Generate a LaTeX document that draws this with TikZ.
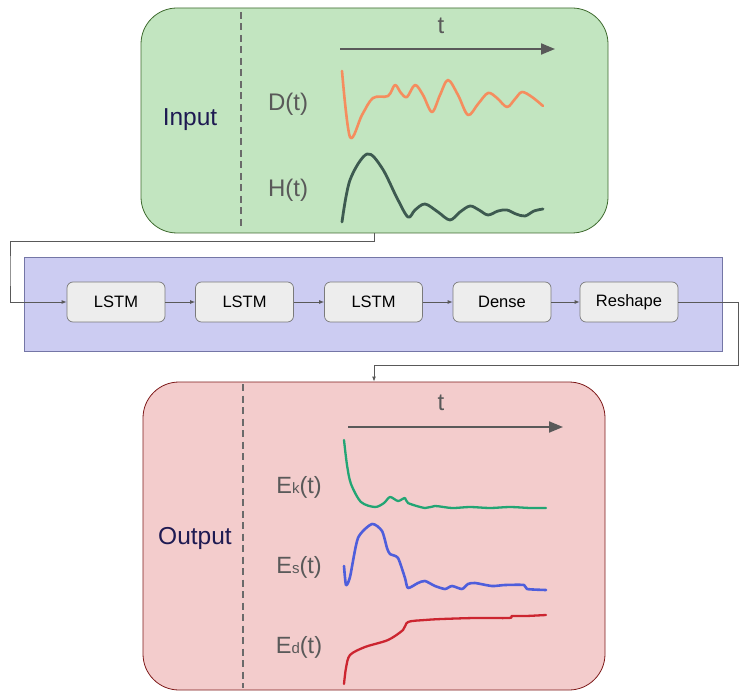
\documentclass[tikz,border=0pt]{standalone}
\usepackage{fontspec}
\setmainfont{Liberation Sans}
\usetikzlibrary{arrows.meta}
\definecolor{gfill}{HTML}{C2E5C0}
\definecolor{gdraw}{HTML}{3E6A2E}
\definecolor{bfill}{HTML}{CCCCF2}
\definecolor{bdraw}{HTML}{7476A6}
\definecolor{rfill}{HTML}{F3CCCC}
\definecolor{rdraw}{HTML}{7E1A1A}
\definecolor{lbl}{HTML}{595959}
\definecolor{navy}{HTML}{1E1A52}
\definecolor{dcol}{HTML}{F58D5E}
\definecolor{hcol}{HTML}{3D5A50}
\definecolor{kcol}{HTML}{22A574}
\definecolor{scol}{HTML}{4E5EDC}
\definecolor{ecol}{HTML}{CC2530}
\tikzset{
  panel/.style={rounded corners=36pt, line width=0.8pt},
  layer/.style={draw=lbl!80, fill=black!7, rounded corners=6pt, minimum width=98pt, minimum height=40pt, font=\fontsize{16.5}{18}\selectfont, line width=0.7pt},
  conn/.style={draw=lbl, line width=0.9pt, -{Latex[length=5pt,width=4pt]}},
  axis/.style={draw=lbl, line width=2pt, -{Triangle[length=14pt,width=11pt]}},
  sep/.style={draw=lbl!90, line width=1.6pt, dash pattern=on 7pt off 4.5pt},
  big/.style={font=\fontsize{24.5}{28}\selectfont},
  sig/.style={font=\fontsize{24}{28}\selectfont, text=lbl},
  esig/.style={font=\fontsize{23.5}{28}\selectfont, text=lbl},
  curve/.style={line width=2.6pt, line cap=round, line join=round}
}
\begin{document}
\begin{tikzpicture}[x=1pt,y=-1pt]
\useasboundingbox (0,0) rectangle (749,700);
% panels
\node[panel, draw=gdraw, fill=gfill, minimum width=467pt, minimum height=225pt] (green) at (374.5,120.5) {};
\node[draw=bdraw, fill=bfill, line width=0.8pt, minimum width=698pt, minimum height=94pt] (blue) at (373,304) {};
\node[panel, draw=rdraw, fill=rfill, minimum width=462pt, minimum height=308pt] (red) at (374,536) {};
% input panel
\draw[sep] (241,12) -- (241,230);
\node[big, text=navy] (inp) at (190,120) {Input};
\coordinate (ia0) at (340,49); \coordinate (ia1) at (555,49);
\draw[axis] (ia0) -- (ia1);
\node[sig] (it) at (441,26) {t};
\node[sig] (dl) at (288,104) {D(t)};
\node[sig] (hl) at (288,190) {H(t)};
\draw[curve, dcol] plot[smooth, tension=0.55] coordinates {(342,71) (350,137) (362,115) (373,98) (388,96) (395,85) (401,93) (407,97) (415,85) (423,95) (432,112) (440,95) (448,80) (458,95) (468,115) (478,104) (488,93) (497,98) (507,107) (515,99) (522,92) (532,97) (543,106)};
\draw[curve, hcol, line width=2.8pt] plot[smooth, tension=0.55] coordinates {(342,222) (350,180) (367,154) (382,168) (397,198) (408,217) (415,210) (425,204) (438,212) (450,220) (460,212) (470,206) (479,210) (488,215) (498,211) (507,210) (516,214) (525,216) (534,211) (543,209)};
% layers
\node[layer] (l1) at (116,302) {LSTM};
\node[layer] (l2) at (244.5,302) {LSTM};
\node[layer] (l3) at (373.5,302) {LSTM};
\node[layer] (l4) at (502,302) {Dense};
\node[layer] (l5) at (629,302) {Reshape};
\draw[conn] (l1) -- (l2);
\draw[conn] (l2) -- (l3);
\draw[conn] (l3) -- (l4);
\draw[conn] (l4) -- (l5);
\coordinate (c1) at (10,270);
\coordinate (c2) at (738,365);
\draw[conn] (green.south) -- ++(0,8) -| (c1) |- (l1.west);
\draw[conn] (l5.east) -| (c2) -| (red.north);
% output panel
\draw[sep] (243,384) -- (243,688);
\node[big, text=navy] (outp) at (195,538) {Output};
\coordinate (oa0) at (348,427); \coordinate (oa1) at (563,427);
\draw[axis] (oa0) -- (oa1);
\node[sig] (ot) at (441,403) {t};
\node[esig] (ekl) at (299,487) {E{\fontsize{15}{15}\selectfont k}(t)};
\node[esig] (esl) at (299,567) {E{\fontsize{15}{15}\selectfont s}(t)};
\node[esig] (edl) at (299,647) {E{\fontsize{15}{15}\selectfont d}(t)};
\draw[curve, kcol, line width=2.3pt] plot[smooth, tension=0.5] coordinates {(344,440) (347,465) (351,484) (361,502) (375,507) (384,503) (390,497) (398,501) (405,498) (408,503) (425,508) (435,506) (452,508) (470,507) (490,508) (510,507) (530,508) (546,508)};
\draw[curve, scol, line width=2.6pt] plot[smooth, tension=0.4] coordinates {(344,566) (346,585) (350,577) (358,538) (372,524) (382,531) (387,548) (390,554) (398,558) (405,578) (408,588) (418,583) (425,581) (435,586) (445,589) (452,586) (462,589) (468,584) (475,583) (492,586) (505,585) (524,585) (527,589) (546,590)};
\draw[curve, ecol, line width=2.3pt] plot[smooth, tension=0.5] coordinates {(344,684) (346,668) (350,655) (365,647) (388,640) (403,630) (408,622) (425,620) (442,619) (475,618) (509,618) (512,616) (526,616) (546,615)};
\end{tikzpicture}
\end{document}
